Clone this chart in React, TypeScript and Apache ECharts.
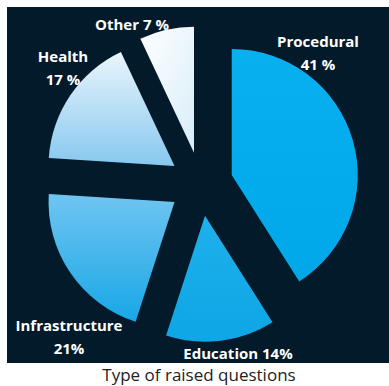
import React, { useEffect, useRef } from "react";
import * as echarts from "echarts";

const categories = ["Procedural", "Education", "Infrastructure", "Health", "Other"];
const shares = [41, 14, 21, 17, 7];
const labelFormats = ["{b}\n{c} %", "{b} {c}%", "{b}\n{c}%", "{b}\n{c} %", "{b} {c} %"];
const caption = "Type of raised questions";

const grad = (top: string, bottom: string, x2 = 0, y2 = 1) => ({
  type: "linear",
  x: 0,
  y: 0,
  x2,
  y2,
  colorStops: [
    { offset: 0, color: top },
    { offset: 1, color: bottom },
  ],
});

const sliceColors = [
  grad("#08b0f0", "#00a8ea"),
  grad("#1eb0ec", "#0ea6e6"),
  grad("#70c5f1", "#18a7e6"),
  grad("#eaf5fc", "#86c8ef"),
  grad("#ffffff", "#d8edf9", 1, 1),
];

const labelPos: Array<[number, number]> = [
  [318, 52],
  [238, 353],
  [69, 336],
  [63, 67],
  [132, 24],
];

export default function App() {
  const ref = useRef<HTMLDivElement>(null);
  useEffect(() => {
    if (!ref.current) return;
    const chart = echarts.init(ref.current, undefined, { renderer: "svg" });
    const labels = categories.map((name, i) => ({
      type: "text",
      x: labelPos[i][0],
      y: labelPos[i][1],
      z: 10,
      style: {
        text: labelFormats[i].replace("{b}", name).replace("{c}", String(shares[i])),
        fill: "#ffffff",
        font: "bold 15px 'Open Sans', sans-serif",
        lineHeight: 23,
        align: "center",
        verticalAlign: "middle",
      },
    }));
    chart.setOption({
      animation: false,
      backgroundColor: "#ffffff",
      graphic: [
        {
          type: "rect",
          z: -10,
          shape: { x: 7, y: 7, width: 382, height: 356 },
          style: { fill: "#021a2a" },
        },
        {
          type: "text",
          x: 199,
          y: 374,
          style: {
            text: caption,
            fill: "#222222",
            font: "17px 'Open Sans', sans-serif",
            align: "center",
            verticalAlign: "middle",
          },
        },
        ...labels,
      ],
      series: [
        {
          type: "pie",
          center: [201, 184],
          radius: 126,
          startAngle: 90,
          clockwise: true,
          selectedMode: "multiple",
          selectedOffset: 32,
          avoidLabelOverlap: false,
          emphasis: { disabled: true },
          labelLine: { show: false },
          label: { show: false },
          data: categories.map((name, i) => ({
            name,
            value: shares[i],
            selected: true,
            itemStyle: { color: sliceColors[i], borderWidth: 0 },
            select: { itemStyle: { color: sliceColors[i], borderWidth: 0 } },
          })),
        },
      ],
    });
    return () => chart.dispose();
  }, []);
  return (
    <div
      ref={ref}
      style={{ position: "fixed", left: 0, top: 0, width: 389, height: 386 }}
    />
  );
}
